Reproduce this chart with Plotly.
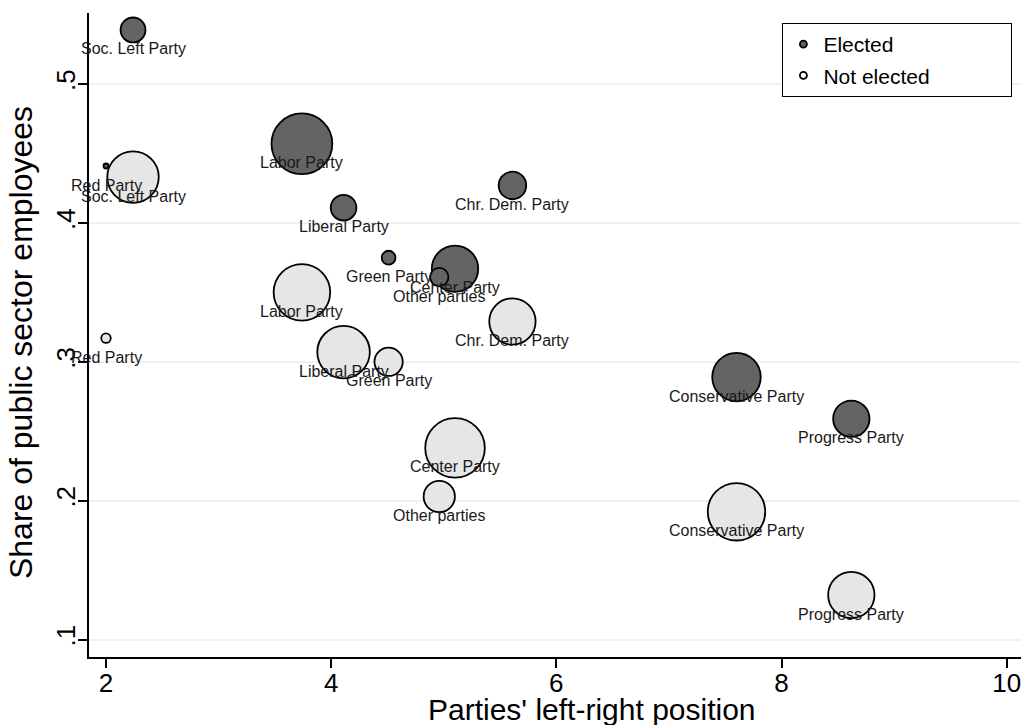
import plotly.graph_objects as go

# ---- data ----
parties = ["Soc. Left Party", "Red Party", "Labor Party", "Liberal Party", "Green Party",
           "Chr. Dem. Party", "Center Party", "Other parties", "Conservative Party", "Progress Party"]
left_right = [2.24, 2.00, 3.74, 4.11, 4.51, 5.61, 5.10, 4.96, 7.60, 8.62]

share_elected = [0.539, 0.441, 0.457, 0.411, 0.375, 0.427, 0.367, 0.361, 0.289, 0.259]
share_not_elected = [0.433, 0.317, 0.350, 0.307, 0.300, 0.329, 0.238, 0.203, 0.192, 0.132]

# bubble weights (relative group sizes)
weight_elected = [62, 2.5, 370, 66, 19, 76, 215, 34, 235, 132]
weight_not_elected = [265, 9, 320, 276, 80, 215, 355, 98, 330, 215]

x_ticks = [2, 4, 6, 8, 10]
y_ticks = [0.1, 0.2, 0.3, 0.4, 0.5]
y_tick_text = [".1", ".2", ".3", ".4", ".5"]

x_title = "Parties' left-right position"
y_title = "Share of public sector employees"

FONT = "Liberation Sans, Arial, Helvetica, sans-serif"
DARK = "#646464"
LIGHT = "#e6e6e6"
SIZEREF = 0.2
NBSP = "\u00a0"

fig = go.Figure()

# bubbles
fig.add_trace(go.Scatter(
    x=left_right, y=share_not_elected, mode="markers", showlegend=False,
    marker=dict(size=weight_not_elected, sizemode="area", sizeref=SIZEREF, opacity=1,
                color=LIGHT, line=dict(color="black", width=1.8)),
    hoverinfo="skip"))
fig.add_trace(go.Scatter(
    x=left_right, y=share_elected, mode="markers", showlegend=False,
    marker=dict(size=weight_elected, sizemode="area", sizeref=SIZEREF, opacity=1,
                color=DARK, line=dict(color="black", width=1.8)),
    hoverinfo="skip"))

# legend entries
fig.add_trace(go.Scatter(x=[None], y=[None], mode="markers", name="Elected",
                         legendgroup="a",
                         marker=dict(size=7, color=DARK, opacity=1,
                                     line=dict(color="black", width=1.8))))
fig.add_trace(go.Scatter(x=[None], y=[None], mode="markers", name="Not elected" + NBSP * 13,
                         legendgroup="b",
                         marker=dict(size=7, color="white", opacity=1,
                                     line=dict(color="black", width=1.8))))

# marker labels (position 6 = below)
annotations = []
for xs, ys in ((left_right, share_elected), (left_right, share_not_elected)):
    for name, xv, yv in zip(parties, xs, ys):
        annotations.append(dict(x=xv, y=yv, xref="x", yref="y", text=name,
                                showarrow=False, yshift=-19,
                                font=dict(family=FONT, size=16, color="#1a1a1a")))

# axis titles
annotations.append(dict(x=0.5397, y=-0.0815, xref="paper", yref="paper", text=x_title,
                        showarrow=False, xanchor="center", yanchor="middle",
                        font=dict(family=FONT, size=30, color="black")))
annotations.append(dict(x=-0.073, y=0.489, xref="paper", yref="paper", text=y_title,
                        showarrow=False, xanchor="center", yanchor="middle", textangle=-90,
                        font=dict(family=FONT, size=32, color="black")))

fig.update_layout(
    width=1021, height=725,
    margin=dict(l=89, r=0, t=13, b=68, autoexpand=False),
    paper_bgcolor="white", plot_bgcolor="white",
    font=dict(family=FONT, color="black"),
    annotations=annotations,
    legend=dict(x=0.744, y=0.9845, xanchor="left", yanchor="top",
                bordercolor="black", borderwidth=1, bgcolor="white",
                font=dict(size=21, family=FONT), tracegroupgap=1,
                traceorder="grouped", itemwidth=30),
    xaxis=dict(range=[1.849, 10.127], tickvals=x_ticks, showgrid=False, zeroline=False,
               showline=True, linecolor="black", linewidth=1.5,
               ticks="outside", ticklen=9, tickwidth=1.5, tickcolor="black",
               tickfont=dict(size=26, family=FONT), automargin=False,
               ticklabeloverflow="allow", ticklabelstandoff=-7),
    yaxis=dict(range=[0.0874, 0.5512], tickvals=y_ticks, ticktext=y_tick_text,
               showgrid=True, gridcolor="#eaf2f3", gridwidth=2, zeroline=False,
               showline=True, linecolor="black", linewidth=1.5,
               ticks="outside", ticklen=9, tickwidth=1.5, tickcolor="black",
               tickangle=-90, tickfont=dict(size=26, family=FONT), automargin=False,
               ticklabeloverflow="allow", ticklabelstandoff=-7),
)

# remove the default 8px page margin so the figure fills the window exactly
fig.write_html("out.html", config={"displayModeBar": False},
               post_script="document.body.style.margin='0px';")
